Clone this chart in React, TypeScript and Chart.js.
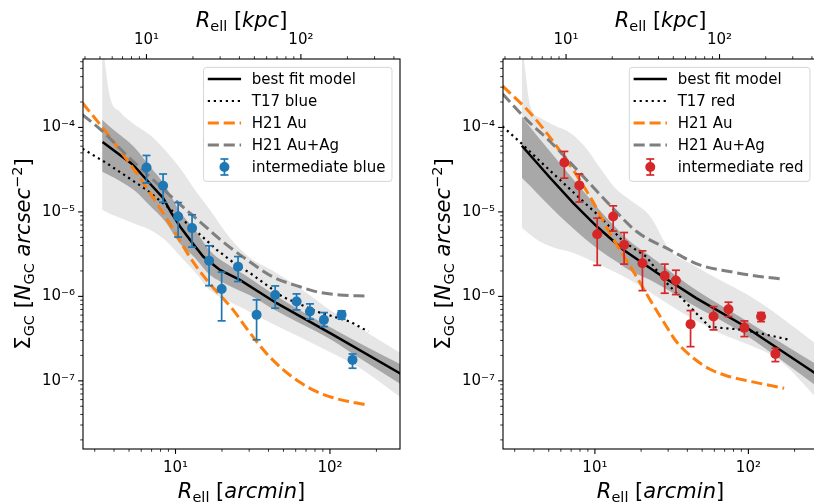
import React, { useEffect, useRef } from 'react';
import { Chart, registerables } from 'chart.js';

Chart.register(...registerables);

const FAMILY = '"DejaVu Sans", "Liberation Sans", sans-serif';

// ---------- axes ----------
const X_MIN = 2.518;
const X_MAX = 284.2;
const Y_MIN = 1.56e-8;
const Y_MAX = 6.46e-4;
const KPC_PER_ARCMIN = 1.542;

const X_MAJOR = [10, 100];
const X_MAJOR_LABELS = ['10¹', '10²'];
const X_MINOR = [3, 4, 5, 6, 7, 8, 9, 20, 30, 40, 50, 60, 70, 80, 90, 200];
const KPC_MAJOR = [10, 100];
const KPC_MAJOR_LABELS = ['10¹', '10²'];
const KPC_MINOR = [4, 5, 6, 7, 8, 9, 20, 30, 40, 50, 60, 70, 80, 90, 200, 300, 400];
const Y_MAJOR = [1e-4, 1e-5, 1e-6, 1e-7];
const Y_MAJOR_LABELS = ['10⁻⁴', '10⁻⁵', '10⁻⁶', '10⁻⁷'];
const Y_MINOR = [
  2e-8, 3e-8, 4e-8, 5e-8, 6e-8, 7e-8, 8e-8, 9e-8,
  2e-7, 3e-7, 4e-7, 5e-7, 6e-7, 7e-7, 8e-7, 9e-7,
  2e-6, 3e-6, 4e-6, 5e-6, 6e-6, 7e-6, 8e-6, 9e-6,
  2e-5, 3e-5, 4e-5, 5e-5, 6e-5, 7e-5, 8e-5, 9e-5,
  2e-4, 3e-4, 4e-4, 5e-4, 6e-4,
];

// ---------- left panel (intermediate blue) ----------
const LEFT_LABELS = ['best fit model', 'T17 blue', 'H21 Au', 'H21 Au+Ag', 'intermediate blue'];

const BLUE_R = [6.49, 8.31, 10.4, 12.8, 16.5, 19.9, 25.4, 33.5, 44.2, 60.8, 74.2, 91.4, 119, 140];
const BLUE_S = [3.36e-5, 2.04e-5, 8.82e-6, 6.43e-6, 2.64e-6, 1.22e-6, 2.25e-6, 6.04e-7, 1.04e-6, 8.68e-7, 6.61e-7, 5.27e-7, 6.04e-7, 1.77e-7];
const BLUE_HI = [4.66e-5, 2.81e-5, 1.29e-5, 9.25e-6, 3.97e-6, 1.94e-6, 2.96e-6, 9.1e-7, 1.33e-6, 1.07e-6, 8.15e-7, 6.43e-7, 6.73e-7, 2.08e-7];
const BLUE_LO = [2.2e-5, 1.3e-5, 5.03e-6, 3.83e-6, 1.34e-6, 5.13e-7, 1.5e-6, 3.06e-7, 7.24e-7, 6.92e-7, 5.37e-7, 4.39e-7, 5.37e-7, 1.41e-7];

const FIT_L_R = [3.37, 5.31, 6.64, 8.31, 9.42, 10.7, 12.4, 15.1, 19.4, 26.1, 45.2, 105, 290];
const FIT_L_S = [6.71e-5, 3.62e-5, 2.29e-5, 1.46e-5, 9.69e-6, 6.72e-6, 4.67e-6, 2.96e-6, 2.06e-6, 1.57e-6, 8.3e-7, 3.5e-7, 1.2e-7];

const T17_L_R = [2.5, 3.57, 6.49, 8.31, 13.7, 18.5, 24.8, 30.3, 49.5, 82, 135, 177];
const T17_L_S = [5.6e-5, 3.79e-5, 1.83e-5, 1.27e-5, 5.86e-6, 3.56e-6, 2.36e-6, 1.9e-6, 9.86e-7, 6.61e-7, 5.03e-7, 3.83e-7];

const AU_L_R = [2.5, 3.75, 5.87, 9.18, 13.0, 16.7, 23.6, 30.0, 38.9, 50.0, 64.0, 80.0, 105, 173];
const AU_L_S = [1.95e-4, 7.76e-5, 2.54e-5, 7.23e-6, 2.56e-6, 1.41e-6, 6.92e-7, 3.8e-7, 2.1e-7, 1.35e-7, 9.6e-8, 7.6e-8, 6.3e-8, 5.18e-8];

const AG_L_R = [2.5, 3.38, 4.79, 6.81, 9.9, 14.4, 20.3, 29.0, 42.7, 64.0, 82.4, 116, 173];
const AG_L_S = [1.42e-4, 8.97e-5, 4.75e-5, 2.61e-5, 1.39e-5, 7.64e-6, 4.43e-6, 2.71e-6, 1.7e-6, 1.3e-6, 1.13e-6, 1.04e-6, 1.01e-6];

const BAND_L_R = [3.35, 3.75, 4.36, 5.45, 6.81, 8.52, 10.66, 13.34, 16.69, 22.48, 30.3, 44.0, 63.9, 100, 156, 290];
const LIGHT_L_HI = [1.09e-3, 2.37e-4, 1.53e-4, 1.076e-4, 8.19e-5, 5.44e-5, 3.33e-5, 1.83e-5, 1.059e-5, 4.93e-6, 2.86e-6, 1.95e-6, 1.26e-6, 6.92e-7, 4.23e-7, 2.1e-7];
const LIGHT_L_LO = [1.059e-5, 9.49e-6, 8.51e-6, 7.23e-6, 6.14e-6, 4.67e-6, 3.02e-6, 1.95e-6, 1.19e-6, 8.61e-7, 6.55e-7, 4.59e-7, 3.31e-7, 2.2e-7, 1.42e-7, 6.3e-8];
const DARK_L_HI = [1.234e-4, 1.028e-4, 8.17e-5, 5.76e-5, 3.46e-5, 2.08e-5, 1.011e-5, 6.17e-6, 3.46e-6, 2.3e-6, 1.64e-6, 1.036e-6, 6.84e-7, 4.34e-7, 2.79e-7, 1.55e-7];
const DARK_L_LO = [2.99e-5, 2.7e-5, 2.33e-5, 1.78e-5, 1.19e-5, 7.78e-6, 4.22e-6, 2.87e-6, 1.8e-6, 1.33e-6, 1.03e-6, 6.88e-7, 4.8e-7, 3.13e-7, 1.85e-7, 9.0e-8];

// ---------- right panel (intermediate red) ----------
const RIGHT_LABELS = ['best fit model', 'T17 red', 'H21 Au', 'H21 Au+Ag', 'intermediate red'];

const RED_R = [6.32, 7.91, 10.35, 13.15, 15.5, 20.4, 28.5, 33.7, 42.0, 59.3, 74.2, 94.2, 121, 150];
const RED_S = [3.85e-5, 2.06e-5, 5.43e-6, 8.83e-6, 4.07e-6, 2.47e-6, 1.75e-6, 1.54e-6, 4.69e-7, 5.77e-7, 7.05e-7, 4.27e-7, 5.77e-7, 2.08e-7];
const RED_HI = [5.2e-5, 2.81e-5, 8.45e-6, 1.18e-5, 5.7e-6, 3.46e-6, 2.41e-6, 2.04e-6, 6.79e-7, 7.57e-7, 8.53e-7, 5.12e-7, 6.43e-7, 2.43e-7];
const RED_LO = [2.51e-5, 1.31e-5, 2.33e-6, 5.93e-6, 2.41e-6, 1.17e-6, 1.09e-6, 1.05e-6, 2.54e-7, 4.01e-7, 5.77e-7, 3.34e-7, 5.02e-7, 1.69e-7];

const FIT_R_R = [3.34, 5.1, 7.23, 10.3, 15.3, 25.2, 45.7, 91.8, 262, 290];
const FIT_R_S = [6.07e-5, 2.54e-5, 1.27e-5, 6.71e-6, 3.56e-6, 1.92e-6, 9.53e-7, 4.59e-7, 1.29e-7, 1.14e-7];

const T17_R_R = [2.5, 3.34, 4.4, 6.08, 11.3, 15.3, 21.7, 28.5, 45.7, 55.8, 94.2, 180];
const T17_R_S = [1.03e-4, 6.41e-5, 3.96e-5, 2.29e-5, 8.05e-6, 4.46e-6, 2.94e-6, 1.52e-6, 6.33e-7, 4.36e-7, 4.01e-7, 3.1e-7];

const AU_R_R = [2.5, 3.79, 5.64, 9.29, 12.5, 18.7, 22.1, 28.0, 34.0, 44.0, 55.8, 72.0, 91.8, 171];
const AU_R_S = [3.1e-4, 1.48e-4, 5.96e-5, 1.52e-5, 5.61e-6, 1.7e-6, 1.01e-6, 5.0e-7, 2.9e-7, 1.85e-7, 1.38e-7, 1.15e-7, 1.03e-7, 8.17e-8];

const AG_R_R = [2.5, 3.6, 5.1, 8.4, 12.5, 18.7, 30.7, 48.1, 75.3, 118, 171];
const AG_R_S = [2.5e-4, 1.23e-4, 6.82e-5, 2.62e-5, 1.21e-5, 5.86e-6, 3.56e-6, 2.36e-6, 1.97e-6, 1.72e-6, 1.6e-6];

const BAND_R_R = [3.34, 3.79, 4.4, 5.5, 6.88, 8.61, 10.78, 13.49, 16.87, 22.75, 30.7, 44.6, 64.8, 101.5, 158.7, 290];
const LIGHT_R_HI = [1.09e-3, 1.81e-4, 1.3e-4, 1.047e-4, 8.65e-5, 5.9e-5, 3.33e-5, 1.93e-5, 1.39e-5, 8.99e-6, 3.56e-6, 2.3e-6, 1.57e-6, 1.014e-6, 5.87e-7, 2.55e-7];
const LIGHT_R_LO = [6.48e-6, 5.35e-6, 4.42e-6, 3.75e-6, 3.37e-6, 2.86e-6, 2.36e-6, 1.95e-6, 1.57e-6, 1.13e-6, 7.93e-7, 5.27e-7, 3.69e-7, 2.66e-7, 1.77e-7, 5.8e-8];
const DARK_R_HI = [1.338e-4, 1.008e-4, 7.21e-5, 4.42e-5, 2.7e-5, 1.68e-5, 1.042e-5, 6.71e-6, 4.48e-6, 3.02e-6, 2.0e-6, 1.22e-6, 8.02e-7, 4.92e-7, 2.93e-7, 1.5e-7];
const DARK_R_LO = [2.54e-5, 2.02e-5, 1.52e-5, 1.014e-5, 6.9e-6, 4.8e-6, 3.5e-6, 2.66e-6, 2.03e-6, 1.57e-6, 1.16e-6, 7.68e-7, 5.32e-7, 3.27e-7, 1.84e-7, 8.2e-8];

// ---------- styles ----------
const LIGHT_BAND = '#e6e6e6';
const DARK_BAND = '#a8a8a8';
const ORANGE = '#ff7f0e';
const GRAY = '#7f7f7f';
const BLUE = '#1f77b4';
const RED = '#d62728';
const DASH = [11.1, 4.8];
const DOT = [2.2, 3.8];

type Panel = {
  labels: string[];
  color: string;
  ptR: number[]; ptS: number[]; ptHi: number[]; ptLo: number[];
  fitR: number[]; fitS: number[];
  t17R: number[]; t17S: number[];
  auR: number[]; auS: number[];
  agR: number[]; agS: number[];
  bandR: number[]; lightHi: number[]; lightLo: number[]; darkHi: number[]; darkLo: number[];
};

const LEFT: Panel = {
  labels: LEFT_LABELS, color: BLUE,
  ptR: BLUE_R, ptS: BLUE_S, ptHi: BLUE_HI, ptLo: BLUE_LO,
  fitR: FIT_L_R, fitS: FIT_L_S, t17R: T17_L_R, t17S: T17_L_S,
  auR: AU_L_R, auS: AU_L_S, agR: AG_L_R, agS: AG_L_S,
  bandR: BAND_L_R, lightHi: LIGHT_L_HI, lightLo: LIGHT_L_LO, darkHi: DARK_L_HI, darkLo: DARK_L_LO,
};

const RIGHT: Panel = {
  labels: RIGHT_LABELS, color: RED,
  ptR: RED_R, ptS: RED_S, ptHi: RED_HI, ptLo: RED_LO,
  fitR: FIT_R_R, fitS: FIT_R_S, t17R: T17_R_R, t17S: T17_R_S,
  auR: AU_R_R, auS: AU_R_S, agR: AG_R_R, agS: AG_R_S,
  bandR: BAND_R_R, lightHi: LIGHT_R_HI, lightLo: LIGHT_R_LO, darkHi: DARK_R_HI, darkLo: DARK_R_LO,
};

const pts = (xs: number[], ys: (number | null)[]) => xs.map((x, i) => ({ x, y: ys[i] }));

type Part = { t: string; it?: boolean; s: number; dy?: number };

function drawParts(ctx: CanvasRenderingContext2D, parts: Part[], x: number, y: number) {
  const fontOf = (p: Part) => `${p.it ? 'italic ' : ''}${p.s}px ${FAMILY}`;
  let w = 0;
  for (const p of parts) { ctx.font = fontOf(p); w += ctx.measureText(p.t).width; }
  let cx = x - w / 2;
  ctx.textAlign = 'left';
  ctx.textBaseline = 'alphabetic';
  for (const p of parts) {
    ctx.font = fontOf(p);
    ctx.fillText(p.t, cx, y + (p.dy || 0));
    cx += ctx.measureText(p.t).width;
  }
}

const TITLE = 21;
const SUB = 14.5;
const KPC_TITLE: Part[] = [
  { t: 'R', it: true, s: TITLE }, { t: 'ell', s: SUB, dy: 3.5 }, { t: ' [', s: TITLE }, { t: 'kpc', it: true, s: TITLE }, { t: ']', s: TITLE },
];
const ARCMIN_TITLE: Part[] = [
  { t: 'R', it: true, s: TITLE }, { t: 'ell', s: SUB, dy: 3.5 }, { t: ' [', s: TITLE }, { t: 'arcmin', it: true, s: TITLE }, { t: ']', s: TITLE },
];
const Y_TITLE: Part[] = [
  { t: 'Σ', s: TITLE }, { t: 'GC', s: SUB, dy: 3.5 }, { t: ' [', s: TITLE }, { t: 'N', it: true, s: TITLE },
  { t: 'GC', s: SUB, dy: 3.5 }, { t: ' ', s: TITLE }, { t: 'arcsec', it: true, s: TITLE }, { t: '−2', s: SUB, dy: -8.5 }, { t: ']', s: TITLE },
];

function makeDecor(p: Panel) {
  return {
    id: 'decor',
    afterDraw(chart: any) {
      const ctx: CanvasRenderingContext2D = chart.ctx;
      const { left, right, top, bottom } = chart.chartArea;
      const xs = chart.scales.x;
      const xt = chart.scales.x2;
      const ys = chart.scales.y;
      ctx.save();
      ctx.strokeStyle = '#000';
      ctx.lineCap = 'butt';
      const seg = (x1: number, y1: number, x2: number, y2: number, w: number) => {
        ctx.lineWidth = w;
        ctx.beginPath();
        ctx.moveTo(x1, y1);
        ctx.lineTo(x2, y2);
        ctx.stroke();
      };
      for (const v of X_MAJOR) { const q = xs.getPixelForValue(v); seg(q, bottom, q, bottom + 4.9, 1.1); }
      for (const v of X_MINOR) { const q = xs.getPixelForValue(v); seg(q, bottom, q, bottom + 2.8, 0.8); }
      for (const v of KPC_MAJOR) { const q = xt.getPixelForValue(v); seg(q, top, q, top - 4.9, 1.1); }
      for (const v of KPC_MINOR) { const q = xt.getPixelForValue(v); seg(q, top, q, top - 2.8, 0.8); }
      for (const v of Y_MAJOR) { const q = ys.getPixelForValue(v); seg(left, q, left - 4.9, q, 1.1); }
      for (const v of Y_MINOR) { const q = ys.getPixelForValue(v); seg(left, q, left - 2.8, q, 0.8); }
      ctx.lineWidth = 1.1;
      ctx.strokeRect(left, top, right - left, bottom - top);

      // legend
      const fs = 15;
      ctx.font = `${fs}px ${FAMILY}`;
      const tw = Math.max(...p.labels.map((l) => ctx.measureText(l).width));
      const bw = 48.3 + tw + 6.5;
      const bx = right - 8 - bw;
      const by = top + 8.4;
      const bh = 114;
      ctx.beginPath();
      (ctx as any).roundRect(bx, by, bw, bh, 3);
      ctx.fillStyle = 'rgba(255,255,255,0.8)';
      ctx.fill();
      ctx.strokeStyle = 'rgba(204,204,204,0.8)';
      ctx.lineWidth = 1;
      ctx.stroke();
      const hx1 = bx + 4.3;
      const hx2 = bx + 37.6;
      const styles = [
        { c: '#000', w: 2.5, d: [] as number[] },
        { c: '#000', w: 2.2, d: DOT },
        { c: ORANGE, w: 3, d: DASH },
        { c: GRAY, w: 3, d: DASH },
      ];
      p.labels.forEach((lab, i) => {
        const yy = by + 11.6 + i * 22;
        if (i < 4) {
          const st = styles[i];
          ctx.strokeStyle = st.c;
          ctx.setLineDash(st.d);
          seg(hx1, yy, hx2, yy, st.w);
          ctx.setLineDash([]);
        } else {
          const cx = (hx1 + hx2) / 2;
          ctx.strokeStyle = p.color;
          seg(cx, yy - 8, cx, yy + 8, 1.7);
          seg(cx - 4, yy - 8, cx + 4, yy - 8, 1.7);
          seg(cx - 4, yy + 8, cx + 4, yy + 8, 1.7);
          ctx.fillStyle = p.color;
          ctx.beginPath();
          ctx.arc(cx, yy, 5, 0, Math.PI * 2);
          ctx.fill();
        }
        ctx.fillStyle = '#000';
        ctx.font = `${fs}px ${FAMILY}`;
        ctx.textAlign = 'left';
        ctx.textBaseline = 'middle';
        ctx.fillText(lab, bx + 48.3, yy + 1);
      });

      // axis titles
      ctx.fillStyle = '#000';
      const midX = (left + right) / 2;
      drawParts(ctx, KPC_TITLE, midX, 27);
      drawParts(ctx, ARCMIN_TITLE, midX, 498);
      ctx.save();
      ctx.translate(left - 53, (top + bottom) / 2);
      ctx.rotate(-Math.PI / 2);
      drawParts(ctx, Y_TITLE, 0, 0);
      ctx.restore();
      ctx.restore();
    },
  };
}

function buildConfig(p: Panel, axisLeft: number, padRight: number): any {
  const base = { pointRadius: 0, tension: 0, clip: 0, spanGaps: false, xAxisID: 'x', yAxisID: 'y' };
  const smooth = { cubicInterpolationMode: 'monotone' };
  const clear = 'rgba(0,0,0,0)';
  const errData: { x: number; y: number | null }[] = [];
  p.ptR.forEach((x, i) => {
    errData.push({ x, y: p.ptLo[i] }, { x, y: p.ptHi[i] }, { x, y: null });
  });
  const tickFont = { family: FAMILY, size: 15 };
  return {
    type: 'line',
    data: {
      datasets: [
        { ...base, ...smooth, data: pts(p.bandR, p.lightHi), borderColor: clear, borderWidth: 0, backgroundColor: LIGHT_BAND, fill: '+1', order: 9 },
        { ...base, ...smooth, data: pts(p.bandR, p.lightLo), borderColor: clear, borderWidth: 0, fill: false, order: 9 },
        { ...base, ...smooth, data: pts(p.bandR, p.darkHi), borderColor: clear, borderWidth: 0, backgroundColor: DARK_BAND, fill: '+1', order: 8 },
        { ...base, ...smooth, data: pts(p.bandR, p.darkLo), borderColor: clear, borderWidth: 0, fill: false, order: 8 },
        { ...base, data: pts(p.fitR, p.fitS), borderColor: '#000', borderWidth: 2.5, fill: false, order: 7 },
        { ...base, data: pts(p.t17R, p.t17S), borderColor: '#000', borderWidth: 2.2, borderDash: DOT, fill: false, order: 6 },
        { ...base, ...smooth, data: pts(p.auR, p.auS), borderColor: ORANGE, borderWidth: 3, borderDash: DASH, fill: false, order: 5 },
        { ...base, ...smooth, data: pts(p.agR, p.agS), borderColor: GRAY, borderWidth: 3, borderDash: DASH, fill: false, order: 4 },
        {
          ...base, data: errData, borderColor: p.color, borderWidth: 1.7, fill: false, order: 1,
          pointRadius: 4, pointStyle: 'line', pointBorderColor: p.color, pointBorderWidth: 1.7,
        },
        {
          ...base, data: pts(p.ptR, p.ptS), showLine: false, fill: false, order: 0,
          pointRadius: 5, pointStyle: 'circle', pointBackgroundColor: p.color, pointBorderColor: p.color, pointBorderWidth: 0,
        },
      ],
    },
    options: {
      animation: false,
      responsive: false,
      events: [],
      layout: { padding: { left: 0, right: padRight, top: 0, bottom: 0 } },
      plugins: { legend: { display: false }, tooltip: { enabled: false }, title: { display: false } },
      scales: {
        x: {
          type: 'logarithmic', position: 'bottom', min: X_MIN, max: X_MAX, bounds: 'data',
          afterFit: (s: any) => { s.height = 54; },
          afterBuildTicks: (s: any) => { s.ticks = X_MAJOR.map((v) => ({ value: v })); },
          grid: { display: false, drawTicks: false }, border: { display: false },
          ticks: { autoSkip: false, maxRotation: 0, minRotation: 0, padding: 10, color: '#000', font: tickFont,
            callback: (_v: any, i: number) => X_MAJOR_LABELS[i] },
        },
        x2: {
          type: 'logarithmic', position: 'top', min: X_MIN * KPC_PER_ARCMIN, max: X_MAX * KPC_PER_ARCMIN, bounds: 'data',
          afterFit: (s: any) => { s.height = 59; },
          afterBuildTicks: (s: any) => { s.ticks = KPC_MAJOR.map((v) => ({ value: v })); },
          grid: { display: false, drawTicks: false }, border: { display: false },
          ticks: { autoSkip: false, maxRotation: 0, minRotation: 0, padding: 10, color: '#000', font: tickFont,
            callback: (_v: any, i: number) => KPC_MAJOR_LABELS[i] },
        },
        y: {
          type: 'logarithmic', position: 'left', min: Y_MIN, max: Y_MAX, bounds: 'data',
          afterFit: (s: any) => { s.width = axisLeft; },
          afterBuildTicks: (s: any) => { s.ticks = Y_MAJOR.map((v) => ({ value: v })); },
          grid: { display: false, drawTicks: false }, border: { display: false },
          ticks: { autoSkip: false, padding: 8, color: '#000', font: tickFont,
            callback: (_v: any, i: number) => Y_MAJOR_LABELS[i] },
        },
      },
    },
    plugins: [makeDecor(p)],
  };
}

export default function App() {
  const leftRef = useRef<HTMLCanvasElement>(null);
  const rightRef = useRef<HTMLCanvasElement>(null);
  useEffect(() => {
    const c1 = new Chart(leftRef.current as HTMLCanvasElement, buildConfig(LEFT, 83, 10));
    const c2 = new Chart(rightRef.current as HTMLCanvasElement, buildConfig(RIGHT, 93, 12));
    return () => { c1.destroy(); c2.destroy(); };
  }, []);
  return (
    <div style={{ position: 'fixed', left: 0, top: 0, width: 814, height: 503, overflow: 'hidden', background: '#fff' }}>
      <canvas ref={leftRef} width={410} height={503} style={{ position: 'absolute', left: 0, top: 0, width: 410, height: 503 }} />
      <canvas ref={rightRef} width={420} height={503} style={{ position: 'absolute', left: 410, top: 0, width: 420, height: 503 }} />
    </div>
  );
}
